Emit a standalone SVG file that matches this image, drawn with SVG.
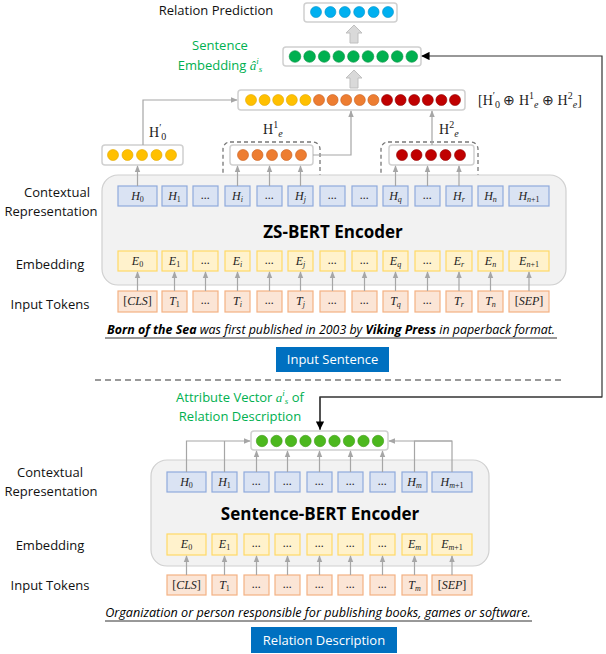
<svg xmlns="http://www.w3.org/2000/svg" width="606" height="654" viewBox="0 0 606 654">
<style>
.lbl{font-family:"Open Sans","Liberation Sans",sans-serif;font-size:13px;fill:#111}
.g{font-family:"Open Sans","Liberation Sans",sans-serif;font-size:13px;fill:#00b050}
.m{font-family:"Liberation Serif",serif;font-style:italic;font-size:12px;fill:#222}
.mr{font-family:"Liberation Serif",serif;font-size:14px;fill:#222}
.hb{fill:#dae3f3;stroke:#8faadc;stroke-width:1.2}
.eb{fill:#fff2cc;stroke:#ffd966;stroke-width:1.2}
.tb{fill:#fbe5d6;stroke:#f4b183;stroke-width:1.2}
.vb{fill:#fff;stroke:#d0d0d0;stroke-width:1.5}
.enc{fill:#f2f2f2;stroke:#d0d0d0;stroke-width:1.2}
.ln{fill:none;stroke:#a6a6a6;stroke-width:1.2}
.dash{fill:none;stroke:#777;stroke-width:1.3;stroke-dasharray:4 3}
.btn{fill:#0070c0}
.bt{font-family:"Open Sans","Liberation Sans",sans-serif;font-size:13px;fill:#fff}
</style>
<defs>
<marker id="ga" viewBox="0 0 10 10" refX="9" refY="5" markerWidth="6" markerHeight="6" orient="auto"><path d="M0,1 L10,5 L0,9 z" fill="#a6a6a6"/></marker>
<marker id="ba" viewBox="0 0 10 10" refX="9" refY="5" markerWidth="7" markerHeight="7" orient="auto"><path d="M0,0 L10,5 L0,10 z" fill="#000"/></marker>
</defs>

<!-- Top region -->
<g id="relation-prediction">
<text class="lbl" x="216" y="15" text-anchor="middle">Relation Prediction</text>
<rect class="vb" x="304" y="3" width="93" height="19" rx="3"/>
<g fill="#00b0f0" stroke="#0090c8" stroke-width="0.6">
<circle cx="316" cy="12" r="5.5"/><circle cx="330.4" cy="12" r="5.5"/><circle cx="344.8" cy="12" r="5.5"/><circle cx="359.2" cy="12" r="5.5"/><circle cx="373.6" cy="12" r="5.5"/><circle cx="388" cy="12" r="5.5"/>
</g>
</g>
<g id="sentence-embedding">
<text class="g" x="220" y="50" text-anchor="middle">Sentence</text>
<text class="g" x="220" y="70" text-anchor="middle">Embedding <tspan font-family="Liberation Serif,serif" font-style="italic">â<tspan font-size="9" dy="-6">i</tspan><tspan font-size="9" dy="8">s</tspan></tspan></text>
<rect class="vb" x="283" y="47" width="138" height="19" rx="3"/>
<g fill="#00b050" stroke="#009040" stroke-width="0.6">
<circle cx="295" cy="56.5" r="5.8"/><circle cx="309.6" cy="56.5" r="5.8"/><circle cx="324.2" cy="56.5" r="5.8"/><circle cx="338.8" cy="56.5" r="5.8"/><circle cx="353.4" cy="56.5" r="5.8"/><circle cx="368" cy="56.5" r="5.8"/><circle cx="382.6" cy="56.5" r="5.8"/><circle cx="397.2" cy="56.5" r="5.8"/><circle cx="411.8" cy="56.5" r="5.8"/>
</g>
</g>
<g id="concat">
<rect class="vb" x="238" y="90" width="227" height="20" rx="3"/>
<g stroke-width="0.6">
<g fill="#ffc000" stroke="#e0a800"><circle cx="251" cy="100" r="5.5"/><circle cx="264.6" cy="100" r="5.5"/><circle cx="278.2" cy="100" r="5.5"/><circle cx="291.8" cy="100" r="5.5"/><circle cx="305.4" cy="100" r="5.5"/></g>
<g fill="#ed7d31" stroke="#c86020"><circle cx="319" cy="100" r="5.5"/><circle cx="332.6" cy="100" r="5.5"/><circle cx="346.2" cy="100" r="5.5"/><circle cx="359.8" cy="100" r="5.5"/><circle cx="373.4" cy="100" r="5.5"/></g>
<g fill="#c00000" stroke="#900000"><circle cx="387" cy="100" r="5.5"/><circle cx="400.6" cy="100" r="5.5"/><circle cx="414.2" cy="100" r="5.5"/><circle cx="427.8" cy="100" r="5.5"/><circle cx="441.4" cy="100" r="5.5"/><circle cx="455" cy="100" r="5.5"/></g>
</g>
<text class="mr" x="478" y="105">[H<tspan font-size="10" dy="-6">′</tspan><tspan font-size="10" dy="9">0</tspan><tspan dy="-3"> ⊕ H</tspan><tspan font-size="10" dy="-6">1</tspan><tspan font-size="10" dy="9" font-style="italic">e</tspan><tspan dy="-3"> ⊕ H</tspan><tspan font-size="10" dy="-6">2</tspan><tspan font-size="10" dy="9" font-style="italic">e</tspan><tspan dy="-3">]</tspan></text>
</g>
<g id="h0prime">
<rect class="vb" x="102" y="145" width="81" height="20" rx="3"/>
<g fill="#ffc000" stroke="#e0a800" stroke-width="0.6"><circle cx="113" cy="155" r="5.5"/><circle cx="127.5" cy="155" r="5.5"/><circle cx="142" cy="155" r="5.5"/><circle cx="156.5" cy="155" r="5.5"/><circle cx="171" cy="155" r="5.5"/></g>
<text class="mr" x="149" y="137">H<tspan font-size="10" dy="-6">′</tspan><tspan font-size="10" dy="9">0</tspan></text>
</g>
<g id="he1">
<rect class="dash" x="223" y="142" width="97" height="70" rx="7"/>
<rect class="vb" x="230" y="145" width="83" height="20" rx="3"/>
<g fill="#ed7d31" stroke="#c86020" stroke-width="0.6"><circle cx="243" cy="155" r="5.5"/><circle cx="257.5" cy="155" r="5.5"/><circle cx="272" cy="155" r="5.5"/><circle cx="286.5" cy="155" r="5.5"/><circle cx="301" cy="155" r="5.5"/></g>
<text class="mr" x="263" y="134">H<tspan font-size="10" dy="-6">1</tspan><tspan font-size="10" dy="9" font-style="italic">e</tspan></text>
</g>
<g id="he2">
<rect class="dash" x="381" y="142" width="97" height="70" rx="7"/>
<rect class="vb" x="389" y="145" width="85" height="20" rx="3"/>
<g fill="#c00000" stroke="#900000" stroke-width="0.6"><circle cx="402" cy="155" r="5.5"/><circle cx="416.5" cy="155" r="5.5"/><circle cx="431" cy="155" r="5.5"/><circle cx="445.5" cy="155" r="5.5"/><circle cx="460" cy="155" r="5.5"/></g>
<text class="mr" x="439" y="134">H<tspan font-size="10" dy="-6">2</tspan><tspan font-size="10" dy="9" font-style="italic">e</tspan></text>
</g>

<!-- ZS-BERT encoder -->
<g id="zs-bert">
<rect class="enc" x="102" y="175" width="464" height="110" rx="16"/>
<text x="333" y="238" text-anchor="middle" font-family="Open Sans,Liberation Sans,sans-serif" font-size="17" font-weight="bold" fill="#000">ZS-BERT Encoder</text>
<text class="lbl" x="57" y="197" text-anchor="middle">Contextual</text>
<text class="lbl" x="51" y="216" text-anchor="middle">Representation</text>
<text class="lbl" x="50" y="269" text-anchor="middle">Embedding</text>
<text class="lbl" x="50" y="309" text-anchor="middle">Input Tokens</text>
<g id="zs-h">
<rect class="hb" x="118" y="186" width="39" height="20"/><rect class="hb" x="162" y="186" width="25" height="20"/><rect class="hb" x="193" y="186" width="25" height="20"/><rect class="hb" x="225" y="186" width="25" height="20"/><rect class="hb" x="257" y="186" width="25" height="20"/><rect class="hb" x="288" y="186" width="25" height="20"/><rect class="hb" x="320" y="186" width="25" height="20"/><rect class="hb" x="352" y="186" width="25" height="20"/><rect class="hb" x="383" y="186" width="25" height="20"/><rect class="hb" x="415" y="186" width="25" height="20"/><rect class="hb" x="446" y="186" width="26" height="20"/><rect class="hb" x="478" y="186" width="25" height="20"/><rect class="hb" x="509" y="186" width="40" height="20"/>
<g class="m" text-anchor="middle">
<text x="137.5" y="200">H<tspan font-size="8" dy="2" font-style="normal">0</tspan></text><text x="174.5" y="200">H<tspan font-size="8" dy="2" font-style="normal">1</tspan></text><text x="205.5" y="199">...</text><text x="237.5" y="200">H<tspan font-size="8" dy="2">i</tspan></text><text x="269.5" y="199">...</text><text x="300.5" y="200">H<tspan font-size="8" dy="2">j</tspan></text><text x="332.5" y="199">...</text><text x="364.5" y="199">...</text><text x="395.5" y="200">H<tspan font-size="8" dy="2">q</tspan></text><text x="427.5" y="199">...</text><text x="459" y="200">H<tspan font-size="8" dy="2">r</tspan></text><text x="490.5" y="200">H<tspan font-size="8" dy="2">n</tspan></text><text x="529" y="200">H<tspan font-size="8" dy="2">n<tspan font-style="normal">+1</tspan></tspan></text>
</g>
</g>
<g id="zs-e">
<rect class="eb" x="118" y="251" width="39" height="20"/><rect class="eb" x="162" y="251" width="25" height="20"/><rect class="eb" x="193" y="251" width="25" height="20"/><rect class="eb" x="225" y="251" width="25" height="20"/><rect class="eb" x="257" y="251" width="25" height="20"/><rect class="eb" x="288" y="251" width="25" height="20"/><rect class="eb" x="320" y="251" width="25" height="20"/><rect class="eb" x="352" y="251" width="25" height="20"/><rect class="eb" x="383" y="251" width="25" height="20"/><rect class="eb" x="415" y="251" width="25" height="20"/><rect class="eb" x="446" y="251" width="26" height="20"/><rect class="eb" x="478" y="251" width="25" height="20"/><rect class="eb" x="509" y="251" width="40" height="20"/>
<g class="m" text-anchor="middle">
<text x="137.5" y="265">E<tspan font-size="8" dy="2" font-style="normal">0</tspan></text><text x="174.5" y="265">E<tspan font-size="8" dy="2" font-style="normal">1</tspan></text><text x="205.5" y="264">...</text><text x="237.5" y="265">E<tspan font-size="8" dy="2">i</tspan></text><text x="269.5" y="264">...</text><text x="300.5" y="265">E<tspan font-size="8" dy="2">j</tspan></text><text x="332.5" y="264">...</text><text x="364.5" y="264">...</text><text x="395.5" y="265">E<tspan font-size="8" dy="2">q</tspan></text><text x="427.5" y="264">...</text><text x="459" y="265">E<tspan font-size="8" dy="2">r</tspan></text><text x="490.5" y="265">E<tspan font-size="8" dy="2">n</tspan></text><text x="529" y="265">E<tspan font-size="8" dy="2">n<tspan font-style="normal">+1</tspan></tspan></text>
</g>
</g>
</g>
<g id="zs-tokens">
<rect class="tb" x="118" y="291" width="39" height="21"/><rect class="tb" x="162" y="291" width="25" height="21"/><rect class="tb" x="193" y="291" width="25" height="21"/><rect class="tb" x="225" y="291" width="25" height="21"/><rect class="tb" x="257" y="291" width="25" height="21"/><rect class="tb" x="288" y="291" width="25" height="21"/><rect class="tb" x="320" y="291" width="25" height="21"/><rect class="tb" x="352" y="291" width="25" height="21"/><rect class="tb" x="383" y="291" width="25" height="21"/><rect class="tb" x="415" y="291" width="25" height="21"/><rect class="tb" x="446" y="291" width="26" height="21"/><rect class="tb" x="478" y="291" width="25" height="21"/><rect class="tb" x="509" y="291" width="40" height="21"/>
<g class="m" text-anchor="middle">
<text x="137.5" y="305"><tspan font-style="normal">[</tspan>CLS<tspan font-style="normal">]</tspan></text><text x="174.5" y="305">T<tspan font-size="8" dy="2" font-style="normal">1</tspan></text><text x="205.5" y="304">...</text><text x="237.5" y="305">T<tspan font-size="8" dy="2">i</tspan></text><text x="269.5" y="304">...</text><text x="300.5" y="305">T<tspan font-size="8" dy="2">j</tspan></text><text x="332.5" y="304">...</text><text x="364.5" y="304">...</text><text x="395.5" y="305">T<tspan font-size="8" dy="2">q</tspan></text><text x="427.5" y="304">...</text><text x="459" y="305">T<tspan font-size="8" dy="2">r</tspan></text><text x="490.5" y="305">T<tspan font-size="8" dy="2">n</tspan></text><text x="529" y="305"><tspan font-style="normal">[</tspan>SEP<tspan font-style="normal">]</tspan></text>
</g>
</g>
<g id="input-sentence">
<text x="331" y="334" text-anchor="middle" font-family="Open Sans,Liberation Sans,sans-serif" font-size="12.4" font-style="italic" fill="#000"><tspan font-weight="bold">Born of the Sea</tspan> was first published in 2003 by <tspan font-weight="bold">Viking Press</tspan> in paperback format.</text>
<line x1="105" y1="338" x2="557" y2="338" stroke="#333" stroke-width="1"/>
<rect class="btn" x="276" y="347" width="113" height="25"/>
<text class="bt" x="332.5" y="364" text-anchor="middle">Input Sentence</text>
</g>
<line x1="95" y1="380" x2="565" y2="380" stroke="#999" stroke-width="2" stroke-dasharray="6 4"/>

<!-- Bottom region -->
<g id="attribute-vector">
<text class="g" x="240" y="402" text-anchor="middle">Attribute Vector <tspan font-family="Liberation Serif,serif" font-style="italic">a<tspan font-size="9" dy="-6">i</tspan><tspan font-size="9" dy="8">s</tspan></tspan><tspan dy="-2"> of</tspan></text>
<text class="g" x="240" y="421" text-anchor="middle">Relation Description</text>
<rect class="vb" x="251" y="431" width="137" height="19" rx="3"/>
<g fill="#4cb81e" stroke="#3a9a10" stroke-width="0.6">
<circle cx="262" cy="441" r="5.7"/><circle cx="276.5" cy="441" r="5.7"/><circle cx="291" cy="441" r="5.7"/><circle cx="305.5" cy="441" r="5.7"/><circle cx="320" cy="441" r="5.7"/><circle cx="334.5" cy="441" r="5.7"/><circle cx="349" cy="441" r="5.7"/><circle cx="363.5" cy="441" r="5.7"/><circle cx="378" cy="441" r="5.7"/>
</g>
</g>
<g id="sbert">
<rect class="enc" x="151" y="460" width="338" height="106" rx="16"/>
<text x="320" y="520" text-anchor="middle" font-family="Open Sans,Liberation Sans,sans-serif" font-size="17" font-weight="bold" fill="#000">Sentence-BERT Encoder</text>
<text class="lbl" x="50" y="477" text-anchor="middle">Contextual</text>
<text class="lbl" x="51" y="496" text-anchor="middle">Representation</text>
<text class="lbl" x="50" y="550" text-anchor="middle">Embedding</text>
<text class="lbl" x="50" y="590" text-anchor="middle">Input Tokens</text>
<g id="sb-h">
<rect class="hb" x="167" y="472" width="39" height="20"/><rect class="hb" x="212" y="472" width="25" height="20"/><rect class="hb" x="244" y="472" width="25" height="20"/><rect class="hb" x="275" y="472" width="25" height="20"/><rect class="hb" x="307" y="472" width="25" height="20"/><rect class="hb" x="338" y="472" width="25" height="20"/><rect class="hb" x="370" y="472" width="25" height="20"/><rect class="hb" x="402" y="472" width="25" height="20"/><rect class="hb" x="432" y="472" width="40" height="20"/>
<g class="m" text-anchor="middle">
<text x="186.5" y="486">H<tspan font-size="8" dy="2" font-style="normal">0</tspan></text><text x="224.5" y="486">H<tspan font-size="8" dy="2" font-style="normal">1</tspan></text><text x="256.5" y="485">...</text><text x="287.5" y="485">...</text><text x="319.5" y="485">...</text><text x="350.5" y="485">...</text><text x="382.5" y="485">...</text><text x="414.5" y="486">H<tspan font-size="8" dy="2">m</tspan></text><text x="452" y="486">H<tspan font-size="8" dy="2">m<tspan font-style="normal">+1</tspan></tspan></text>
</g>
</g>
<g id="sb-e">
<rect class="eb" x="167" y="534" width="39" height="21"/><rect class="eb" x="212" y="534" width="25" height="21"/><rect class="eb" x="244" y="534" width="25" height="21"/><rect class="eb" x="275" y="534" width="25" height="21"/><rect class="eb" x="307" y="534" width="25" height="21"/><rect class="eb" x="338" y="534" width="25" height="21"/><rect class="eb" x="370" y="534" width="25" height="21"/><rect class="eb" x="402" y="534" width="25" height="21"/><rect class="eb" x="432" y="534" width="40" height="21"/>
<g class="m" text-anchor="middle">
<text x="186.5" y="548">E<tspan font-size="8" dy="2" font-style="normal">0</tspan></text><text x="224.5" y="548">E<tspan font-size="8" dy="2" font-style="normal">1</tspan></text><text x="256.5" y="547">...</text><text x="287.5" y="547">...</text><text x="319.5" y="547">...</text><text x="350.5" y="547">...</text><text x="382.5" y="547">...</text><text x="414.5" y="548">E<tspan font-size="8" dy="2">m</tspan></text><text x="452" y="548">E<tspan font-size="8" dy="2">m<tspan font-style="normal">+1</tspan></tspan></text>
</g>
</g>
</g>
<g id="sb-tokens">
<rect class="tb" x="167" y="575" width="39" height="20"/><rect class="tb" x="212" y="575" width="25" height="20"/><rect class="tb" x="244" y="575" width="25" height="20"/><rect class="tb" x="275" y="575" width="25" height="20"/><rect class="tb" x="307" y="575" width="25" height="20"/><rect class="tb" x="338" y="575" width="25" height="20"/><rect class="tb" x="370" y="575" width="25" height="20"/><rect class="tb" x="402" y="575" width="25" height="20"/><rect class="tb" x="432" y="575" width="40" height="20"/>
<g class="m" text-anchor="middle">
<text x="186.5" y="589"><tspan font-style="normal">[</tspan>CLS<tspan font-style="normal">]</tspan></text><text x="224.5" y="589">T<tspan font-size="8" dy="2" font-style="normal">1</tspan></text><text x="256.5" y="588">...</text><text x="287.5" y="588">...</text><text x="319.5" y="588">...</text><text x="350.5" y="588">...</text><text x="382.5" y="588">...</text><text x="414.5" y="589">T<tspan font-size="8" dy="2">m</tspan></text><text x="452" y="589"><tspan font-style="normal">[</tspan>SEP<tspan font-style="normal">]</tspan></text>
</g>
</g>
<g id="relation-description">
<text x="318" y="617" text-anchor="middle" font-family="Open Sans,Liberation Sans,sans-serif" font-size="12.6" font-style="italic" fill="#000">Organization or person responsible for publishing books, games or software.</text>
<line x1="105" y1="621" x2="532" y2="621" stroke="#333" stroke-width="1"/>
<rect class="btn" x="251" y="627" width="146" height="26"/>
<text class="bt" x="324" y="645" text-anchor="middle">Relation Description</text>
</g>

<!-- Connectors -->
<g id="connectors">
<g stroke="#bfbfbf" fill="#d9d9d9" stroke-width="1">
<path d="M350,43 V33 H346 L354,25 L362,33 H358 V43 Z"/>
<path d="M350,88 V78 H346 L354,70 L362,78 H358 V88 Z"/>
</g>
<g class="ln" marker-end="url(#ga)">
<path d="M143,145 V100 H237"/>
<path d="M313,155 H351 V111"/>
<path d="M432,145 V111"/>
<path d="M137.5,186 V166"/>
<path d="M237.5,186 V166"/><path d="M269.5,186 V166"/><path d="M300.5,186 V166"/>
<path d="M395.5,186 V166"/><path d="M427.5,186 V166"/><path d="M459,186 V166"/>
<path d="M137.5,291 V272"/><path d="M174.5,291 V272"/><path d="M205.5,291 V272"/><path d="M237.5,291 V272"/><path d="M269.5,291 V272"/><path d="M300.5,291 V272"/><path d="M332.5,291 V272"/><path d="M364.5,291 V272"/><path d="M395.5,291 V272"/><path d="M427.5,291 V272"/><path d="M459,291 V272"/><path d="M490.5,291 V272"/><path d="M529,291 V272"/>
<path d="M186.5,472 V441 H250"/>
<path d="M452,472 V441 H389"/>
<path d="M256.5,472 V451"/><path d="M287.5,472 V451"/><path d="M319.5,472 V451"/><path d="M350.5,472 V451"/><path d="M382.5,472 V451"/>
<path d="M186.5,575 V556"/><path d="M224.5,575 V556"/><path d="M256.5,575 V556"/><path d="M287.5,575 V556"/><path d="M319.5,575 V556"/><path d="M350.5,575 V556"/><path d="M382.5,575 V556"/><path d="M414.5,575 V556"/><path d="M452,575 V556"/>
</g>
<g class="ln">
<path d="M224.5,472 V441"/><path d="M414.5,472 V441 H452"/>
</g>
<path d="M320,430 V397 H602 V56 H422" fill="none" stroke="#333" stroke-width="1.2" marker-end="url(#ba)"/>
<path d="M602,397 H320 V429" fill="none" stroke="#333" stroke-width="1.2" marker-end="url(#ba)"/>
</g>
</svg>
